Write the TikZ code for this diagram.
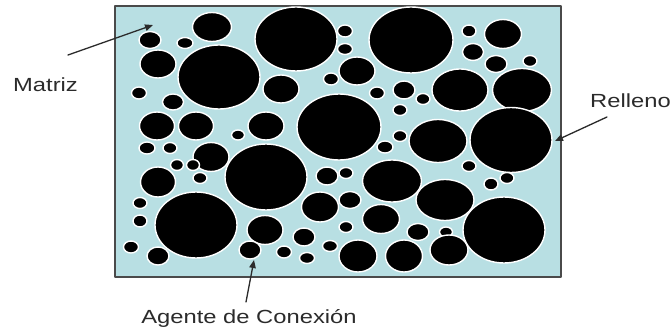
\documentclass[tikz,border=0pt]{standalone}
\usepackage{fontspec}
\usepackage{graphicx}
\setmainfont{Liberation Sans}
\usetikzlibrary{arrows.meta}
\definecolor{ink}{HTML}{2B2B2B}
\definecolor{marco}{HTML}{4A4A4A}
\definecolor{matriz}{HTML}{B8DFE3}
\newcommand{\ancho}[1]{\scalebox{1.25}[1]{#1}}

\begin{document}
\begin{tikzpicture}[x=1pt,y=-1pt,line cap=round,line join=round,
  grano/.style={fill=black,draw=white,line width=1.4pt},
  rotulo/.style={text=ink,font=\fontsize{19}{22}\selectfont,inner sep=0pt},
  flecha/.style={-{Triangle[length=8pt,width=6.5pt]},ink,line width=1.3pt}]
  \path[use as bounding box] (0,0) rectangle (670,329);
  \fill[white] (0,0) rectangle (670,329);

  % matriz
  \filldraw[fill=matriz,draw=marco,line width=1.6pt] (115,6) rectangle (561,277);

  % relleno: cx/cy/rx/ry
  \foreach \x/\y/\rx/\ry in {
    150/40/11/8.5, 212/27/19.5/14.5, 185/43/8/5.5, 296/39/41/32,
    158/64/18/14, 219/77/41/32, 139/93/7.5/6, 173/102/10.5/8,
    281/89/18/14, 331/79/7.5/6, 157/126/17.5/14, 196/126/17.5/14,
    238/135/6.5/5, 266/126/18/14, 339/127/42/33,
    345/31/7.5/6, 345/49/7.5/5.5, 411/40/42/33, 357/71/18/14,
    469/31/7/6, 503/34/18.5/14.5, 473/52/10.5/8.5, 496/64/11/8.5,
    530/61/7/5.5, 377/93/7.5/6, 404/90/11/9, 423/99/7/5.5,
    460/90/28/21, 522/90/29.5/21.5, 400/110/7/5.5, 400/136/7/5.5,
    438/141/29/21.5, 511/140/41/32.5,
    147/148/8/6, 170/148/7/5.5, 211/157/18/14.5, 177/165/6.5/5.5,
    193/165/6.5/5.5, 200/178/7/5.5, 266/177/41/33, 158/182/17.5/15,
    327/176/11/9, 140/203/7/5.5, 140/221/7/6, 196/225/41/33,
    265/230/18/14.5, 320/207/18.5/15, 131/247/7.5/6, 158/256/11/9,
    250/250/11/9, 304/237/11/9, 284/252/7.5/6, 307/258/7.5/5.5,
    330/246/7.5/5.5,
    385/147/8/6, 346/173/7/5.5, 469/166/7/5.5, 392/181/29.5/21,
    507/178/7/5.5, 491/184/7/6, 445/200/29/20.5, 350/200/11/8.5,
    381/219/18.5/14.5, 504/230/41/33, 346/227/7/5.5, 418/232/11/8.5,
    446/232/6.5/5, 449/250/19/15, 358/256/19/16, 404/256/18.5/16}{
    \filldraw[grano] (\x,\y) ellipse [x radius=\rx pt, y radius=\ry pt];
  }

  % rotulos
  \node[rotulo,anchor=base west] (matriz) at (13,92) {\ancho{Matriz}};
  \node[rotulo,anchor=base west] (relleno) at (590,108) {\ancho{Relleno}};
  \node[rotulo,anchor=base] (agente) at (249,323) {\ancho{Agente de Conexión}};

  \coordinate (matrizA) at (68,55);
  \coordinate (matrizB) at (153,25);
  \coordinate (rellenoA) at (607,117);
  \coordinate (rellenoB) at (555,141);
  \coordinate (agenteA) at (246,302);
  \coordinate (agenteB) at (254,260);
  \draw[flecha] (matrizA) -- (matrizB);
  \draw[flecha] (rellenoA) -- (rellenoB);
  \draw[flecha] (agenteA) -- (agenteB);
\end{tikzpicture}
\end{document}
